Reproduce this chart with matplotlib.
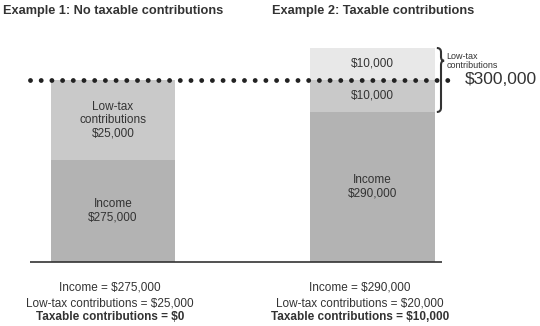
import matplotlib.pyplot as plt
from matplotlib.path import Path
from matplotlib.patches import PathPatch

plt.rcParams['font.family'] = ['Liberation Sans', 'DejaVu Sans']

# values in $ thousands
threshold = 300
income = [275, 290]
low_tax = [25, 10]
taxable = [0, 10]
titles = ["Example 1: No taxable contributions", "Example 2: Taxable contributions"]
income_labels = ["Income\n$275,000", "Income\n$290,000"]
low_tax_labels = ["Low-tax\ncontributions\n$25,000", "$10,000"]
taxable_labels = ["", "$10,000"]
summary = [
    ["Income = $275,000", "Low-tax contributions = $25,000", "Taxable contributions = $0"],
    ["Income = $290,000", "Low-tax contributions = $20,000", "Taxable contributions = $10,000"],
]

FLOOR = 243
TXT = "#333333"
C_INCOME = "#b3b3b3"
C_LOW = "#c9c9c9"
C_TOP = "#e8e8e8"


def draw_brace(ax, x, y_top, y_bot, y_tip):
    d = 1.3
    xc = x - 0.016
    xt = x + 0.012
    verts = [(xc, y_top), (x, y_top), (x, y_top - d),
             (x, y_tip + d), (x, y_tip), (xt, y_tip),
             (x, y_tip), (x, y_tip - d),
             (x, y_bot + d), (x, y_bot), (xc, y_bot)]
    codes = [Path.MOVETO, Path.CURVE3, Path.CURVE3,
             Path.LINETO, Path.CURVE3, Path.CURVE3,
             Path.CURVE3, Path.CURVE3,
             Path.LINETO, Path.CURVE3, Path.CURVE3]
    ax.add_patch(PathPatch(Path(verts, codes), fill=False, lw=1.5, color=TXT))


def main() -> None:
    fig = plt.figure(figsize=(5.4, 3.26), dpi=100)
    ax = fig.add_axes([0, 0, 1, 1])
    ax.set_xlim(-0.4355, 1.6455)
    ax.set_ylim(223.1, 325)
    ax.axis("off")

    x = [0, 1]
    width = 0.478
    inc_h = [v - FLOOR for v in income]
    ax.bar(x, inc_h, width, bottom=FLOOR, color=C_INCOME)
    ax.bar(x, low_tax, width, bottom=income, color=C_LOW)
    top_bottom = [income[i] + low_tax[i] for i in range(2)]
    ax.bar(x, taxable, width, bottom=top_bottom, color=C_TOP)

    for i in range(2):
        ax.text(x[i], (FLOOR + income[i]) / 2, income_labels[i], ha="center", va="center",
                fontsize=8.5, color=TXT, linespacing=1.15)
        ax.text(x[i], income[i] + low_tax[i] / 2, low_tax_labels[i], ha="center", va="center",
                fontsize=8.5, color=TXT, linespacing=1.15)
        if taxable[i] > 0:
            ax.text(x[i], top_bottom[i] + taxable[i] / 2, taxable_labels[i], ha="center",
                    va="center", fontsize=8.5, color=TXT)

    # base line and threshold
    ax.plot([-0.32, 1.268], [FLOOR, FLOOR], color=TXT, lw=1.2, solid_capstyle="butt")
    ax.plot([-0.32, 1.3256], [threshold, threshold], color="#222222", lw=3.5,
            linestyle=(0, (0.001, 2.2)), dash_capstyle="round")
    ax.text(1.356, threshold, "$300,000", ha="left", va="center", fontsize=12.5, color=TXT)

    # brace for the low-tax part of example 2
    y_top = income[1] + low_tax[1] + taxable[1]
    y_bot = income[1]
    y_tip = y_top - 0.2 * (y_top - y_bot)
    draw_brace(ax, 1 + width / 2 + 0.025, y_top, y_bot, y_tip)
    ax.text(1.285, y_tip, "Low-tax\ncontributions", ha="left", va="center", fontsize=6.5,
            color=TXT, linespacing=1.0)

    fig.text(3 / 540, 1 - 11 / 326, titles[0], ha="left", va="center", fontsize=9.2,
             fontweight="bold", color=TXT)
    fig.text(272 / 540, 1 - 11 / 326, titles[1], ha="left", va="center", fontsize=9.2,
             fontweight="bold", color=TXT)

    centers = [110, 360]
    rows = [288, 303, 317]
    for i in range(2):
        for j in range(3):
            fig.text(centers[i] / 540, 1 - rows[j] / 326, summary[i][j], ha="center",
                     va="center", fontsize=8.5, color=TXT,
                     fontweight="bold" if j == 2 else "normal")

    fig.savefig("out.png", dpi=100)


if __name__ == "__main__":
    main()
